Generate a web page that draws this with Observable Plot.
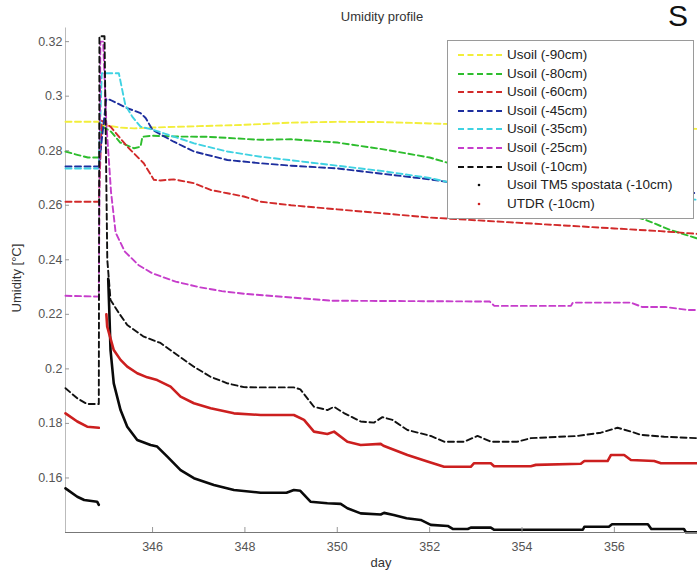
<!DOCTYPE html>
<html>
<head>
<meta charset="utf-8">
<script src="https://cdn.jsdelivr.net/npm/d3@7"></script>
<script src="https://cdn.jsdelivr.net/npm/@observablehq/plot@0.6"></script>
<style>
  body { margin: 0; background: #fff; font-family: "Liberation Sans", Arial, sans-serif; }
  #wrap { position: relative; width: 697px; height: 571px; overflow: hidden; }
  #chart { position: absolute; left: 0; top: 0; }
  #title { position: absolute; left: 382px; top: 9px; transform: translateX(-50%); font-size: 13px; color: #333; white-space: nowrap; }
  #corner { position: absolute; left: 668px; top: 1px; font-size: 30px; line-height: 30px; color: #111; }
  #ylab { position: absolute; left: 16px; top: 278px; transform: translate(-50%, -50%) rotate(-90deg); font-size: 13px; color: #333; white-space: nowrap; }
  #xlab { position: absolute; left: 381px; top: 555px; transform: translateX(-50%); font-size: 13px; color: #333; }
  #legend { position: absolute; left: 447px; top: 40px; width: 245px; height: 177px; background: #fff; border: 1px solid #9a9a9a; }
  .row { position: absolute; left: 0; height: 16px; width: 245px; font-size: 13.5px; color: #222; }
  .row svg { position: absolute; left: 8px; top: 0; }
  .row span { position: absolute; left: 59px; top: 0px; white-space: nowrap; }
</style>
</head>
<body>
<div id="wrap">
  <div id="chart"></div>
  <div id="title">Umidity profile</div>
  <div id="corner">S</div>
  <div id="ylab">Umidity [°C]</div>
  <div id="xlab">day</div>
  <div id="legend"></div>
</div>
<script>
// ---- data (day, value) ----
const u90 = [[344.115,0.2906],[344.836,0.2906],[344.9,0.2895],[345.3,0.2885],[345.6,0.2882],[346.0,0.2885],[347,0.2890],[348,0.2895],[349,0.2903],[350,0.2906],[351,0.2905],[352,0.2900],[353,0.2895],[354,0.2890],[355,0.2888],[356,0.2885],[357,0.2883],[357.8,0.2880]];
const u80 = [[344.115,0.2797],[344.37,0.2785],[344.6,0.2775],[344.836,0.2775],[344.9,0.2890],[345.1,0.2870],[345.3,0.2830],[345.6,0.2809],[345.74,0.2815],[345.78,0.2851],[346.0,0.2855],[346.5,0.2852],[347.2,0.2851],[348.34,0.2840],[349,0.2842],[350,0.2830],[351,0.2805],[352,0.2775],[353,0.2725],[354,0.2680],[355,0.2630],[356,0.2580],[356.7,0.2545],[357.2,0.2510],[357.8,0.2478]];
const u60 = [[344.115,0.2613],[344.836,0.2613],[344.9,0.2910],[345.09,0.2888],[345.452,0.2815],[345.81,0.2754],[346.03,0.2693],[346.173,0.2691],[346.46,0.2695],[346.895,0.2681],[347.257,0.2656],[347.62,0.2644],[347.978,0.2632],[348.34,0.2613],[349,0.2600],[350,0.2585],[351,0.2570],[352,0.2555],[353,0.2545],[354,0.2535],[355,0.2525],[356,0.2515],[357,0.2505],[357.8,0.2495]];
const u45 = [[344.115,0.2742],[344.836,0.2742],[345.0,0.2990],[345.09,0.2986],[345.45,0.2956],[345.74,0.2938],[345.85,0.2920],[346.0,0.2876],[346.46,0.2833],[346.9,0.2797],[347.62,0.2766],[348.34,0.2754],[349,0.2745],[350,0.2735],[351,0.2715],[352,0.2695],[352.4,0.2685],[353,0.2670],[354,0.2660],[355,0.2655],[356,0.2650],[357,0.2645],[357.8,0.2645]];
const u35 = [[344.115,0.2735],[344.836,0.2735],[344.9,0.3084],[345.27,0.3084],[345.41,0.2968],[345.56,0.2925],[345.74,0.2888],[346.03,0.2876],[346.9,0.2827],[347.62,0.2797],[348.34,0.2778],[349,0.2765],[350,0.2745],[351,0.2725],[352,0.2700],[352.4,0.2685],[353,0.2670],[354,0.2660],[355,0.2650],[356,0.2640],[357,0.2630],[357.8,0.2620]];
const u25 = [[344.115,0.2268],[344.836,0.2265],[344.87,0.3200],[344.93,0.3200],[345.0,0.2900],[345.1,0.2650],[345.2,0.2500],[345.4,0.2430],[345.7,0.2380],[346.0,0.2350],[346.5,0.2320],[347,0.2300],[347.5,0.2285],[348,0.2275],[349,0.2262],[349.86,0.2250],[353.3,0.2247],[353.4,0.2231],[355.06,0.2231],[355.1,0.2243],[356.36,0.2243],[356.6,0.2227],[357.1,0.2227],[357.6,0.2216],[357.8,0.2216]];
const u10 = [[344.115,0.1929],[344.37,0.1892],[344.585,0.1871],[344.836,0.1871],[344.85,0.3220],[344.96,0.3220],[345.02,0.2400],[345.09,0.2253],[345.27,0.2205],[345.452,0.2161],[345.81,0.2118],[346.173,0.2095],[346.535,0.2051],[346.895,0.2008],[347.257,0.1971],[347.619,0.1947],[347.978,0.1933],[348.34,0.1932],[349.06,0.1932],[349.2,0.1925],[349.495,0.1861],[349.785,0.1849],[349.93,0.1861],[350.145,0.1838],[350.507,0.1807],[350.795,0.1803],[350.977,0.1823],[351.194,0.1813],[351.519,0.1776],[352.024,0.1754],[352.312,0.1733],[352.745,0.1733],[353.036,0.1754],[353.324,0.1733],[353.903,0.1733],[354.19,0.1746],[355.203,0.1754],[355.707,0.1766],[356.069,0.1784],[356.358,0.1770],[356.574,0.1758],[357.08,0.1751],[357.8,0.1746]];
const tm5 = [[344.115,0.1562],[344.37,0.1531],[344.52,0.1519],[344.80,0.1513],[344.836,0.1501],[344.9,NaN],[345.04,0.2330],[345.06,0.2230],[345.09,0.2069],[345.16,0.1947],[345.307,0.1849],[345.452,0.1788],[345.668,0.1739],[345.957,0.1721],[346.10,0.1715],[346.32,0.1678],[346.607,0.1629],[346.895,0.1599],[347.328,0.1574],[347.762,0.1556],[348.34,0.1546],[348.9,0.1546],[349.06,0.1556],[349.2,0.1553],[349.42,0.1513],[349.785,0.1507],[350.074,0.1505],[350.219,0.1489],[350.507,0.1470],[350.94,0.1466],[351.012,0.1472],[351.222,0.1464],[351.5,0.1452],[351.807,0.1446],[352.024,0.1428],[352.392,0.1424],[352.5,0.1413],[352.826,0.1413],[352.89,0.1418],[353.324,0.1418],[353.4,0.1410],[355.317,0.1410],[355.35,0.1421],[355.881,0.1421],[355.95,0.1430],[356.726,0.1430],[356.8,0.1413],[357.506,0.1413],[357.55,0.1401],[357.8,0.1401]];
const utdr = [[344.115,0.1837],[344.37,0.1807],[344.585,0.1788],[344.836,0.1784],[344.9,NaN],[345.0,0.2200],[345.018,0.2155],[345.16,0.2069],[345.307,0.2033],[345.452,0.2008],[345.668,0.1984],[345.885,0.1969],[346.10,0.1959],[346.39,0.1935],[346.607,0.1898],[346.895,0.1874],[347.257,0.1856],[347.762,0.1837],[348.34,0.1831],[349.06,0.1831],[349.28,0.1813],[349.495,0.1770],[349.785,0.1761],[349.93,0.1770],[350.219,0.1733],[350.507,0.1721],[350.94,0.1725],[351.0,0.1718],[351.519,0.1684],[351.952,0.1660],[352.312,0.1641],[352.89,0.1641],[352.962,0.1654],[353.324,0.1654],[353.395,0.1643],[354.19,0.1643],[354.3,0.1648],[355.274,0.1652],[355.35,0.1662],[355.853,0.1662],[355.924,0.1684],[356.212,0.1684],[356.358,0.1666],[356.863,0.1662],[357.008,0.1654],[357.8,0.1654]];

const seriesNames = ["Usoil (-90cm)","Usoil (-80cm)","Usoil (-60cm)","Usoil (-45cm)","Usoil (-35cm)","Usoil (-25cm)","Usoil (-10cm)","Usoil TM5 spostata (-10cm)","UTDR (-10cm)"];
const xTicks = [346,348,350,352,354,356];
const yTicks = [0.16,0.18,0.20,0.22,0.24,0.26,0.28,0.30,0.32];
const xDomain = [344.115, 357.8];
const yDomain = [0.14, 0.325];

// ---- styles ----
const seriesData = [u90,u80,u60,u45,u35,u25,u10,tm5,utdr];
const colors = ["#f2ee3a","#2dbd2d","#d22a2a","#1d2e9e","#3fd2e2","#c63dcb","#111111","#0a0a0a","#cc1f1f"];
const dashed = [true,true,true,true,true,true,true,false,false];

const marks = [];
seriesData.forEach((arr, i) => {
  marks.push(Plot.line(arr, {
    x: d => d[0], y: d => d[1],
    stroke: colors[i],
    strokeWidth: dashed[i] ? 1.9 : 2.6,
    strokeDasharray: dashed[i] ? "6,3.5" : null,
    strokeLinejoin: "round",
    curve: "linear"
  }));
});

const chart = Plot.plot({
  width: 697, height: 571,
  marginLeft: 65, marginRight: 0, marginTop: 27.5, marginBottom: 39,
  style: { fontFamily: "Liberation Sans, Arial, sans-serif", fontSize: "12.5px", color: "#555", background: "transparent" },
  x: { domain: xDomain, label: null },
  y: { domain: yDomain, label: null },
  marks: [
    Plot.ruleX([xDomain[0]], { stroke: "#bbb", strokeWidth: 1 }),
    ...marks,
    Plot.ruleY([yDomain[0]], { stroke: "#777", strokeWidth: 1.2 }),
    Plot.axisX(xTicks, { tickSize: -5, tickPadding: 15, tickFormat: d => String(d), stroke: "#999", fill: "#555", label: null }),
    Plot.axisY(yTicks, { tickSize: -4, tickPadding: 7, tickFormat: d => String(+d.toFixed(2)), stroke: "#999", fill: "#555", label: null })
  ]
});
document.getElementById("chart").appendChild(chart);

// ---- legend ----
const legend = document.getElementById("legend");
seriesNames.forEach((name, i) => {
  const row = document.createElement("div");
  row.className = "row";
  row.style.top = (6 + i * 18.6) + "px";
  const sample = dashed[i]
    ? `<svg width="50" height="16"><line x1="2" x2="49" y1="8" y2="8" stroke="${colors[i]}" stroke-width="1.9" stroke-dasharray="6,3.5"/></svg>`
    : `<svg width="50" height="16"><circle cx="23" cy="8" r="1.3" fill="${colors[i]}"/></svg>`;
  row.innerHTML = sample + `<span>${name}</span>`;
  legend.appendChild(row);
});
</script>
</body>
</html>
